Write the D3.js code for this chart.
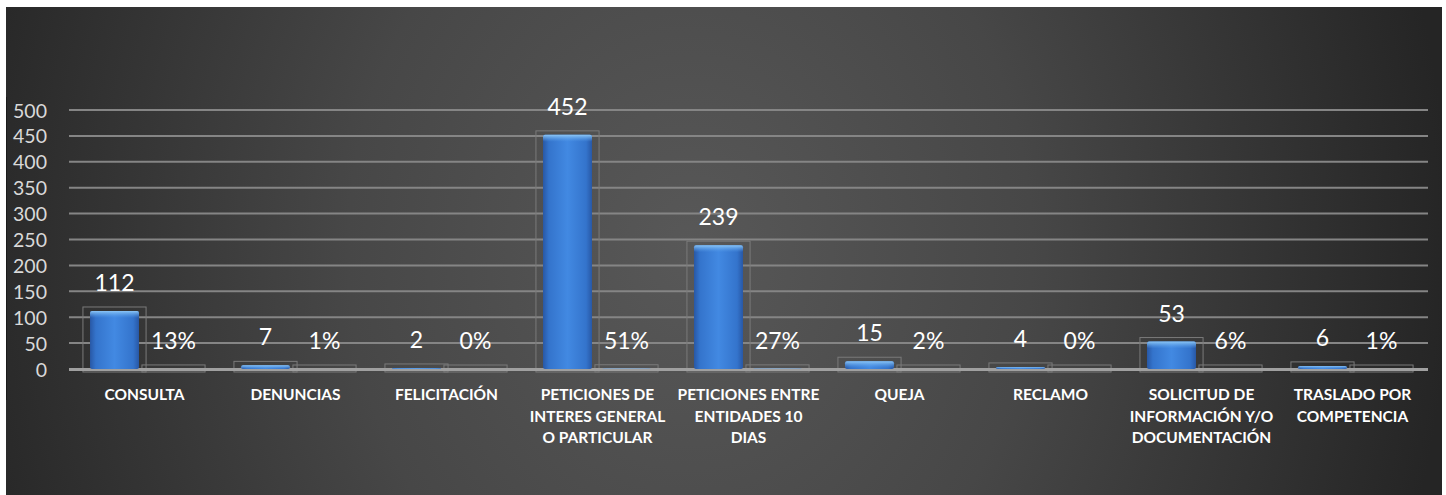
<!DOCTYPE html>
<html>
<head>
<meta charset="utf-8">
<script src="https://cdn.jsdelivr.net/npm/d3@7"></script>
<style>
  html, body { margin: 0; padding: 0; background: #ffffff; }
  svg { display: block; }
  text { font-family: Lato, "Open Sans", sans-serif; }
</style>
</head>
<body>
<div id="chart"></div>
<script>
// categories (each split in the lines shown under the axis)
const categories = [
    ["CONSULTA"],
    ["DENUNCIAS"],
    ["FELICITACIÓN"],
    ["PETICIONES DE", "INTERES GENERAL", "O PARTICULAR"],
    ["PETICIONES ENTRE", "ENTIDADES 10", "DIAS"],
    ["QUEJA"],
    ["RECLAMO"],
    ["SOLICITUD DE", "INFORMACIÓN Y/O", "DOCUMENTACIÓN"],
    ["TRASLADO POR", "COMPETENCIA"]
];
const counts = [112, 7, 2, 452, 239, 15, 4, 53, 6];
const percents = [0.126, 0.008, 0.002, 0.508, 0.269, 0.017, 0.004, 0.060, 0.007];
const yTicks = [0, 50, 100, 150, 200, 250, 300, 350, 400, 450, 500];
const series = ["count", "pct"];

const W = 1446, H = 495;
const plot = { left: 69, right: 1428, top: 110, bottom: 369 };

const svg = d3.select("#chart").append("svg")
    .attr("width", W)
    .attr("height", H);

const defs = svg.append("defs");

// background: dark radial shading
const bg = defs.append("radialGradient")
    .attr("id", "bg")
    .attr("gradientUnits", "userSpaceOnUse")
    .attr("cx", 690).attr("cy", 250).attr("r", 760)
    .attr("gradientTransform", "translate(690,250) scale(1,1.2) translate(-690,-250)");
bg.append("stop").attr("offset", "0").attr("stop-color", "#585858");
bg.append("stop").attr("offset", "0.45").attr("stop-color", "#474747");
bg.append("stop").attr("offset", "1").attr("stop-color", "#252525");

// bar shading (cylinder-ish)
const barGrad = defs.append("linearGradient")
    .attr("id", "barGrad")
    .attr("x1", "0").attr("x2", "1").attr("y1", "0").attr("y2", "0");
[["0", "#2858a6"], ["0.12", "#3474cc"], ["0.5", "#4289e2"], ["0.88", "#3474cc"], ["1", "#2858a6"]]
    .forEach(s => barGrad.append("stop").attr("offset", s[0]).attr("stop-color", s[1]));

const topGrad = defs.append("linearGradient")
    .attr("id", "topGrad")
    .attr("x1", "0").attr("x2", "0").attr("y1", "0").attr("y2", "1");
topGrad.append("stop").attr("offset", "0").attr("stop-color", "#8cc6f6").attr("stop-opacity", 1);
topGrad.append("stop").attr("offset", "1").attr("stop-color", "#5aa0ea").attr("stop-opacity", 0);

svg.append("rect")
    .attr("x", 6).attr("y", 7)
    .attr("width", 1436).attr("height", H - 7)
    .attr("fill", "url(#bg)");

svg.append("line")
    .attr("x1", 6.5).attr("x2", 6.5)
    .attr("y1", 97).attr("y2", 400)
    .attr("stroke", "#1a1a1a")
    .attr("stroke-width", 1);

// scales
const x0 = d3.scaleBand()
    .domain(d3.range(categories.length))
    .range([plot.left, plot.right]);

const x1 = d3.scaleBand()
    .domain(series)
    .range([16, x0.bandwidth() - 17]);

const y = d3.scaleLinear()
    .domain([0, 500])
    .range([plot.bottom, plot.top]);

// gridlines
svg.append("g")
    .selectAll("line")
    .data(yTicks.filter(d => d > 0))
    .join("line")
    .attr("x1", plot.left).attr("x2", plot.right)
    .attr("y1", d => y(d)).attr("y2", d => y(d))
    .attr("stroke", "#858585")
    .attr("stroke-width", 2);

// y axis labels
const yAxis = d3.axisLeft(y).tickValues(yTicks).tickSize(0).tickPadding(0);
const yg = svg.append("g")
    .attr("transform", "translate(47,0)")
    .call(yAxis);
yg.select(".domain").remove();
yg.selectAll("text")
    .attr("fill", "#d9d9d9")
    .style("font-size", "19.5px")
    .attr("dy", "0.36em");

// rows of data
const rows = categories.map((c, i) => ({ i, count: counts[i], pct: percents[i] }));
const cells = rows.flatMap(r => [
    { i: r.i, key: "count", value: r.count, label: String(r.count) },
    { i: r.i, key: "pct", value: r.pct, label: d3.format(".0%")(r.pct) }
]);

const cx = d => x0(d.i) + x1(d.key) + x1.bandwidth() / 2;
const boxW = x1.bandwidth() * 1.07;
const barW = x1.bandwidth() * 0.83;

// faint 3D frame around every bar
svg.append("g")
    .selectAll("rect")
    .data(cells)
    .join("rect")
    .attr("x", d => cx(d) - boxW / 2)
    .attr("y", d => y(d.value) - 4)
    .attr("width", boxW)
    .attr("height", d => y(0) + 3 - (y(d.value) - 4))
    .attr("fill", "none")
    .attr("stroke", "#7a7a7a")
    .attr("stroke-width", 1);

// floor / zero line
svg.append("line")
    .attr("x1", plot.left).attr("x2", plot.right)
    .attr("y1", y(0) + 0.5).attr("y2", y(0) + 0.5)
    .attr("stroke", "#a0a0a0")
    .attr("stroke-width", 3);

// bars
const bars = svg.append("g")
    .selectAll("g")
    .data(cells)
    .join("g");

bars.append("rect")
    .attr("x", d => cx(d) - barW / 2)
    .attr("y", d => y(d.value))
    .attr("width", barW)
    .attr("height", d => y(0) - y(d.value))
    .attr("rx", 2)
    .attr("fill", "url(#barGrad)");

bars.append("rect")
    .attr("x", d => cx(d) - barW / 2)
    .attr("y", d => y(d.value))
    .attr("width", barW)
    .attr("height", d => Math.min(7, y(0) - y(d.value)))
    .attr("rx", 2)
    .attr("fill", "url(#topGrad)");

// value labels
svg.append("g")
    .selectAll("text")
    .data(cells)
    .join("text")
    .attr("x", d => cx(d))
    .attr("y", d => y(d.value) - 20)
    .attr("text-anchor", "middle")
    .attr("fill", "#ffffff")
    .style("font-size", "23px")
    .text(d => d.label);

// category labels
const cat = svg.append("g")
    .selectAll("text")
    .data(categories)
    .join("text")
    .attr("x", (d, i) => x0(i) + x0.bandwidth() / 2)
    .attr("y", 400)
    .attr("text-anchor", "middle")
    .attr("fill", "#ffffff")
    .style("font-size", "15.5px")
    .style("font-weight", "bold");

cat.selectAll("tspan")
    .data(d => d)
    .join("tspan")
    .attr("x", function () { return this.parentNode.getAttribute("x"); })
    .attr("dy", (d, j) => j === 0 ? 0 : 21.5)
    .text(d => d);
</script>
</body>
</html>
